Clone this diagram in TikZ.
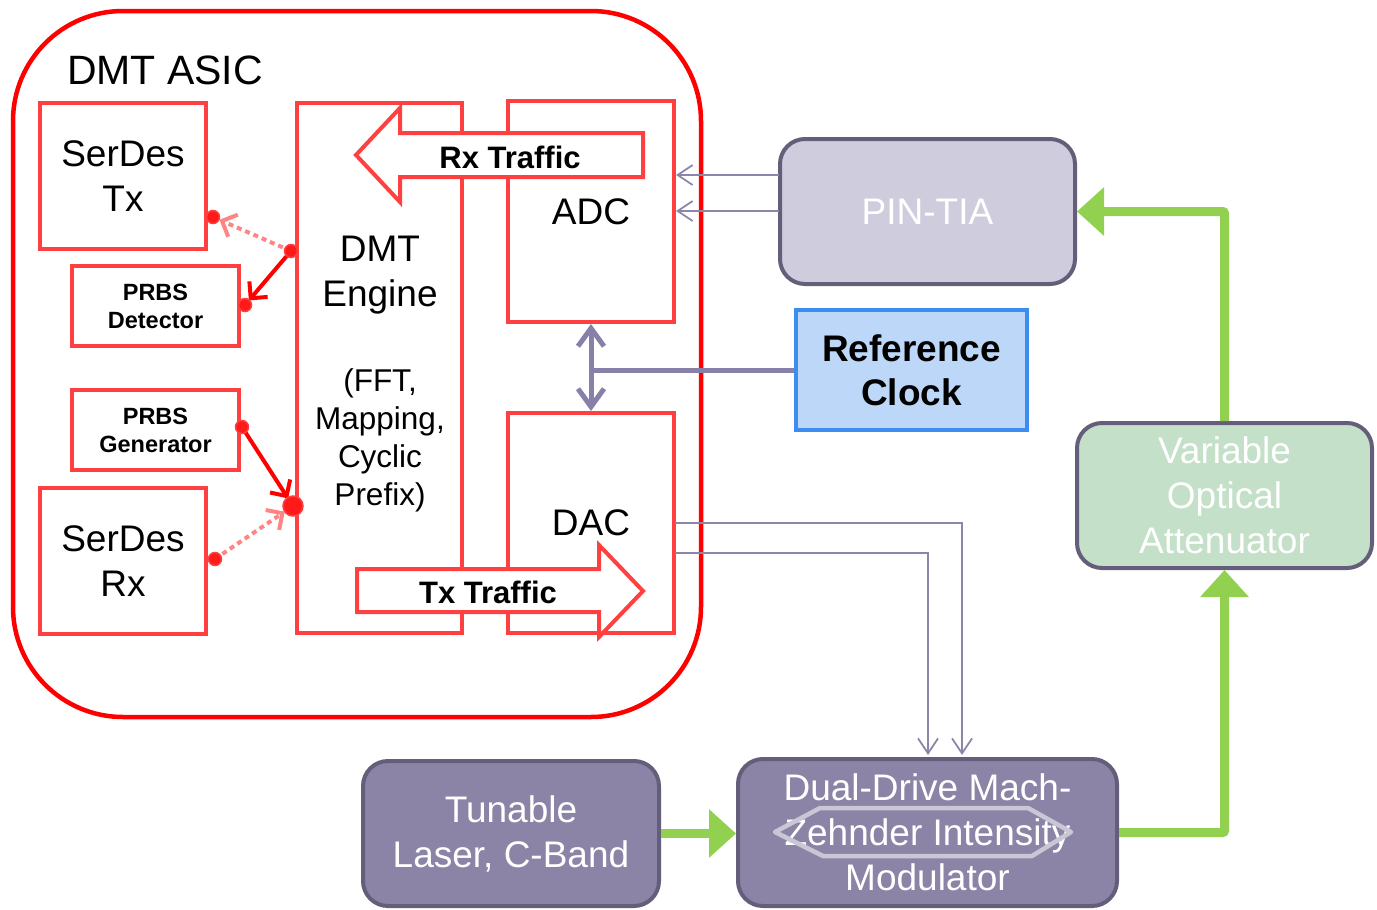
\documentclass[tikz,border=0pt]{standalone}
\usepackage{fontspec}
\setmainfont{Liberation Sans}
\usetikzlibrary{arrows.meta,calc}
\definecolor{asicred}{HTML}{FF0000}
\definecolor{boxred}{HTML}{FF4040}
\definecolor{pinkred}{HTML}{FF8585}
\definecolor{dotred}{HTML}{FF1A1A}
\definecolor{slate}{HTML}{655E7B}
\definecolor{lav}{HTML}{CFCDDD}
\definecolor{mauve}{HTML}{8B84A7}
\definecolor{mint}{HTML}{C5E0C9}
\definecolor{skyfill}{HTML}{BDD7F8}
\definecolor{skyline}{HTML}{3B8DF0}
\definecolor{thinline}{HTML}{8C87AA}
\definecolor{refline}{HTML}{8880A8}
\definecolor{leaf}{HTML}{92D050}
\definecolor{hexgray}{HTML}{C9C7D6}
\begin{document}
\begin{tikzpicture}[x=1pt,y=-1pt,
  bigfont/.style={font=\fontsize{37}{45}\selectfont},
  redbox/.style={draw=boxred, line width=4pt, inner sep=0pt, align=center, bigfont},
  prbsbox/.style={redbox, font=\fontsize{23.5}{28}\selectfont\bfseries},
  blockarrow/.style={draw=boxred, fill=white, line width=4pt, line join=miter},
  trafficlabel/.style={font=\fontsize{31}{36}\selectfont\bfseries, inner sep=0pt},
  outerbox/.style={draw=slate, line width=4pt, rounded corners=25pt, inner sep=0pt,
                   align=center, text=white, bigfont},
  reddot/.style={fill=dotred, draw=boxred, line width=1.5pt},
  solidred/.style={draw=asicred, line width=4pt,
                   -{Straight Barb[length=12pt,width=24pt,line width=4pt]}},
  dotpink/.style={draw=pinkred, line width=4pt, dash pattern=on 5pt off 4pt,
                  -{Straight Barb[length=12pt,width=24pt,line width=4pt]}},
  thinarrow/.style={draw=thinline, line width=1.8pt,
                    -{Straight Barb[length=15pt,width=20pt,line width=1.8pt]}},
  refarrow/.style={draw=refline, line width=5pt,
                   {Straight Barb[length=18pt,width=26pt,line width=5pt]}-{Straight Barb[length=18pt,width=26pt,line width=5pt]}},
  greenarrow/.style={draw=leaf, line width=9pt, rounded corners=2pt,
                     -{Triangle[length=27pt,width=47pt]}}
]
\useasboundingbox (0,0) rectangle (1377,910);

% ASIC outline
\node[draw=asicred, line width=4.5pt, rounded corners=110pt, minimum width=688pt,
      minimum height=706pt, inner sep=0pt] (asic) at (357,364) {};
\node[font=\fontsize{41}{48}\selectfont, inner sep=0pt] (asictitle) at (165,70) {DMT ASIC};

% ASIC blocks
\node[redbox, minimum width=166pt, minimum height=146pt] (stx) at (123,176) {SerDes\\Tx};
\node[prbsbox, minimum width=167pt, minimum height=80pt] (pdet) at (155.5,306) {PRBS\\Detector};
\node[prbsbox, minimum width=167pt, minimum height=80pt] (pgen) at (155.5,430) {PRBS\\Generator};
\node[redbox, minimum width=166pt, minimum height=146pt] (srx) at (123,561) {SerDes\\Rx};
\node[redbox, minimum width=165pt, minimum height=530pt] (eng) at (379.5,368) {};
\node[bigfont, align=center, inner sep=0pt] (engtitle) at (380,275) {DMT\\Engine};
\node[font=\fontsize{31.5}{38}\selectfont, align=center, inner sep=0pt] (engsub) at (380,440)
     {(FFT,\\Mapping,\\Cyclic\\Prefix)};
\node[redbox, minimum width=166pt, minimum height=221pt] (adc) at (591,211.5) {ADC};
\node[redbox, minimum width=166pt, minimum height=220pt] (dac) at (591,523) {DAC};

% Traffic block arrows
\draw[blockarrow] (643,133) -- (400,133) -- (400,108) -- (356,155) -- (400,202)
      -- (400,177) -- (643,177) -- cycle;
\node[trafficlabel] (rxt) at (510,157) {Rx Traffic};
\draw[blockarrow] (357,569) -- (599,569) -- (599,545) -- (643,591) -- (599,637)
      -- (599,612) -- (357,612) -- cycle;
\node[trafficlabel] (txt) at (488,592) {Tx Traffic};

% connection dots
\coordinate (eT) at (291,251);
\coordinate (eB) at (293,506);
\coordinate (dTx) at (213,217);
\coordinate (dDet) at (245,305);
\coordinate (dGen) at (242,427);
\coordinate (dRx) at (215,559);

\draw[dotpink, shorten >=7pt] (eT) -- (dTx);
\draw[solidred, shorten >=6pt] (eT) -- (dDet);
\draw[solidred, shorten >=9pt] (dGen) -- (eB);
\draw[dotpink, shorten >=10pt] (dRx) -- (eB);
\foreach \d in {eT,dTx,dDet,dGen,dRx} \fill[reddot] (\d) circle (6.5pt);
\fill[reddot] (eB) circle (10pt);

% right side blocks
\node[outerbox, fill=lav, minimum width=295pt, minimum height=145pt] (pin) at (927.5,211.5) {PIN-TIA};
\node[draw=skyline, fill=skyfill, line width=4pt, minimum width=231pt, minimum height=120pt,
      inner sep=0pt, align=center, font=\fontsize{37}{44}\selectfont\bfseries] (ref) at (911.5,370)
      {Reference\\Clock};
\node[outerbox, fill=mint, minimum width=295pt, minimum height=145pt] (voa) at (1224.5,495.5)
      {Variable\\Optical\\Attenuator};
\node[outerbox, fill=mauve, minimum width=379pt, minimum height=147pt] (mzm) at (927.5,832.5)
      {Dual-Drive Mach-\\Zehnder Intensity\\Modulator};
\node[outerbox, fill=mauve, minimum width=296pt, minimum height=145pt] (laser) at (511,833.5)
      {Tunable\\Laser, C-Band};

% modulator hexagon overlay
\draw[hexgray, line width=4.5pt, line join=round] (775,832) -- (820,808) -- (1028,808)
      -- (1071,832) -- (1032,856) -- (823,856) -- cycle;

% thin connectors PIN-TIA -> ADC
\coordinate (a1) at (779,175);
\coordinate (a2) at (779,211);
\draw[thinarrow] (a1) -- (a1 -| adc.east);
\draw[thinarrow] (a2) -- (a2 -| adc.east);

% DAC -> modulator
\coordinate (q1) at (675,523);
\coordinate (q2) at (675,553);
\coordinate (m1) at ($(mzm.north)+(34.5,-2)$);
\coordinate (m2) at ($(mzm.north)+(0.5,-2)$);
\draw[thinarrow] (q1) -| (m1);
\draw[thinarrow] (q2) -| (m2);

% reference clock
\coordinate (rc) at (ref.west -| adc.south);
\draw[draw=refline, line width=5pt] (ref.west) -- (rc);
\draw[refarrow] (adc.south) -- (dac.north);

% optical path
\draw[greenarrow] (laser.east) -- (laser.east -| mzm.west);
\draw[greenarrow] (mzm.east) -| (voa.south);
\draw[greenarrow] (voa.north) |- (pin.east);
\end{tikzpicture}
\end{document}
